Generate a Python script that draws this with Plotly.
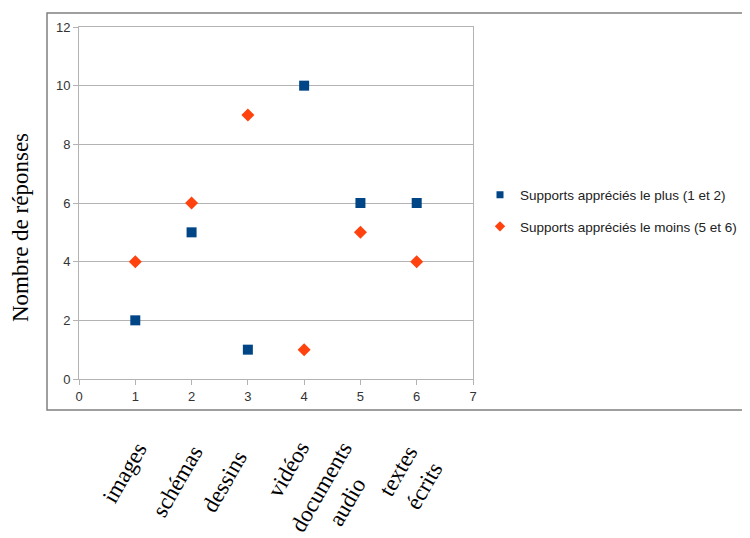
import plotly.graph_objects as go

x_values = [1, 2, 3, 4, 5, 6]
plus_values = [2, 5, 1, 10, 6, 6]
moins_values = [4, 6, 9, 1, 5, 4]
categories = ["images", "schémas", "dessins", "vidéos", "documents<br>audio", "textes<br>écrits"]
series_names = ["Supports appréciés le plus (1 et 2)", "Supports appréciés le moins (5 et 6)"]
y_title = "Nombre de réponses"

W, H = 750, 538
OFF = 8  # page body margin
# desired plot area on screen: x 79..473, y 27..379
SX0, SX1, SY0, SY1 = 79, 473, 27, 379
L, T = SX0 - OFF, SY0 - OFF
pw, ph = SX1 - SX0, SY1 - SY0
R, B = W - L - pw, H - T - ph

def px(xs):
    return (xs - SX0) / pw

def py(ys):
    return (SY1 - ys) / ph

COL_PLUS, COL_MOINS = "#004586", "#ff420e"

fig = go.Figure()
fig.add_trace(go.Scatter(x=x_values, y=plus_values, mode="markers", name=series_names[0],
                         showlegend=False,
                         marker=dict(symbol="square", size=10, color=COL_PLUS)))
fig.add_trace(go.Scatter(x=x_values, y=moins_values, mode="markers", name=series_names[1],
                         showlegend=False,
                         marker=dict(symbol="diamond", size=10, color=COL_MOINS)))
# legend entries with smaller symbols, as in the original
fig.add_trace(go.Scatter(x=[None], y=[None], mode="markers", name=series_names[0],
                         legendgroup="a",
                         marker=dict(symbol="square", size=7, color=COL_PLUS)))
fig.add_trace(go.Scatter(x=[None], y=[None], mode="markers", name=series_names[1],
                         legendgroup="b",
                         marker=dict(symbol="diamond", size=8, color=COL_MOINS)))

axis_common = dict(showline=True, linecolor="#b3b3b3", linewidth=1, mirror=True,
                   ticks="outside", ticklen=5, tickcolor="#b3b3b3",
                   tickfont=dict(family="Liberation Sans, Arial, sans-serif", size=13, color="#333333"),
                   zeroline=False)
fig.update_xaxes(range=[0, 7], dtick=1, showgrid=False, **axis_common)
fig.update_yaxes(range=[0, 12], dtick=2, showgrid=True, gridcolor="#b3b3b3", gridwidth=1, **axis_common)

# outer frame
fig.add_shape(type="rect", xref="paper", yref="paper",
              x0=px(47), x1=px(760), y0=py(410), y1=py(13),
              line=dict(color="#808080", width=1.5), fillcolor="rgba(0,0,0,0)")

# category labels (manual offsets as in original)
label_pos = [(124, 473), (177, 481), (225, 482), (288, 469), (334, 494), (411, 478)]
for cat, (lx, ly) in zip(categories, label_pos):
    fig.add_annotation(text=cat, xref="paper", yref="paper", x=px(lx), y=py(ly),
                       xanchor="center", yanchor="middle", showarrow=False, textangle=-60,
                       font=dict(family="Liberation Serif, serif", size=23, color="#000000"))

fig.add_annotation(text=y_title, xref="paper", yref="paper", x=px(20), y=py(228),
                   xanchor="center", yanchor="middle", showarrow=False, textangle=-90,
                   font=dict(family="Liberation Serif, serif", size=23, color="#000000"))

fig.update_layout(
    width=W, height=H,
    margin=dict(l=L, r=R, t=T, b=B),
    paper_bgcolor="white", plot_bgcolor="white",
    showlegend=True,
    legend=dict(x=px(480), y=py(211), xanchor="left", yanchor="middle",
                font=dict(family="Liberation Sans, Arial, sans-serif", size=13.5, color="#222222"),
                tracegroupgap=11, bgcolor="rgba(0,0,0,0)"),
)

fig.write_html("out.html")
